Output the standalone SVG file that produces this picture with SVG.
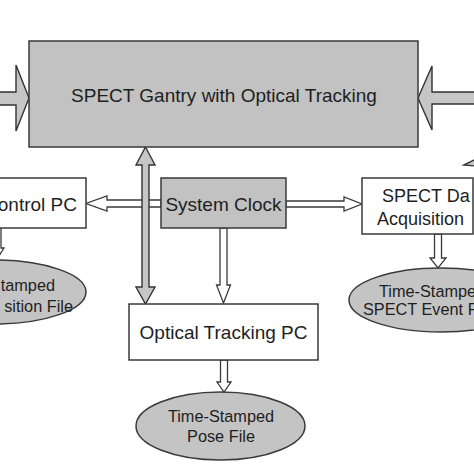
<svg xmlns="http://www.w3.org/2000/svg" width="474" height="474" viewBox="0 0 474 474">
<style>
text{font-family:"Liberation Sans",Arial,sans-serif;font-size:19px;fill:#1e1e1e}
.s{font-size:16.3px}
.d{font-size:18px}
.box{fill:#ffffff;stroke:#3a3a3a;stroke-width:1.5}
.gbox{fill:#c2c2c2;stroke:#3a3a3a;stroke-width:1.5}
.ell{fill:#c4c4c4;stroke:#3a3a3a;stroke-width:1.5}
.hol{fill:#ffffff;stroke:#3a3a3a;stroke-width:1.3;stroke-linejoin:miter}
.blk{fill:#c6c6c6;stroke:#333333;stroke-width:1.4;stroke-linejoin:miter}
.m{text-anchor:middle}
.e{text-anchor:end}
</style>
<rect width="474" height="474" fill="#ffffff"/>
<g id="connectors">
<polygon class="blk" points="-2,92 16,92 16,65 29,98 16,131 16,105 -2,105"/>
<polygon class="blk" points="476,92 432,92 432,66 418,98 432,130 432,104 476,104"/>
<polygon class="blk" points="464,165 476,159 476,166"/>
<polygon class="hol" points="161,200 107,200 107,196 86,203.5 107,211 107,207 161,207"/>
<polygon class="hol" points="286,201 344,201 344,197 362,204 344,211 344,207 286,207"/>
<polygon class="hol" points="220,228 220,285 216.5,285 223.5,303 230.5,285 227,285 227,228"/>
<polygon class="hol" points="220.5,360 220.5,382 217,382 224,392 231,382 227.5,382 227.5,360"/>
<polygon class="hol" points="434.5,234 434.5,258 430,258 438,268 446,258 441.5,258 441.5,234"/>
<polygon class="hol" points="-7,228 -7,248 -10,248 -3,259 4,248 1,248 1,228"/>
<polygon class="blk" points="145.5,147 155,165 149,165 149,287 155,287 145.5,304 136,287 142,287 142,165 136,165"/>
</g>
<g id="gantry">
<rect class="gbox" x="29" y="41" width="389" height="106"/>
<text class="m" x="224" y="102">SPECT Gantry with Optical Tracking</text>
</g>
<g id="control-pc">
<rect class="box" x="-10" y="178" width="96" height="50"/>
<text class="e" x="77" y="211">ontrol PC</text>
</g>
<g id="system-clock">
<rect class="gbox" x="161" y="178" width="125" height="50"/>
<text class="m" x="223.5" y="211">System Clock</text>
</g>
<g id="spect-daq">
<rect class="box" x="362" y="178" width="111" height="56"/>
<text class="d" x="382" y="202">SPECT Da</text>
<text class="d" x="377" y="225">Acquisition</text>
</g>
<g id="optical-pc">
<rect class="box" x="129" y="304" width="189" height="56"/>
<text class="m" x="223.5" y="339">Optical Tracking PC</text>
</g>
<g id="position-file">
<ellipse class="ell" cx="-6" cy="292" rx="92" ry="32"/>
<text class="s e" x="55" y="291">tamped</text>
<text class="s e" x="73" y="312">sition File</text>
</g>
<g id="event-file">
<ellipse class="ell" cx="441" cy="300" rx="92" ry="32"/>
<text class="s" x="379" y="297">Time-Stampe</text>
<text class="s" x="363" y="315">SPECT Event F</text>
</g>
<g id="pose-file">
<ellipse class="ell" cx="220.5" cy="426" rx="84.5" ry="34"/>
<text class="s m" x="221" y="422">Time-Stamped</text>
<text class="s m" x="221" y="442">Pose File</text>
</g>
</svg>
